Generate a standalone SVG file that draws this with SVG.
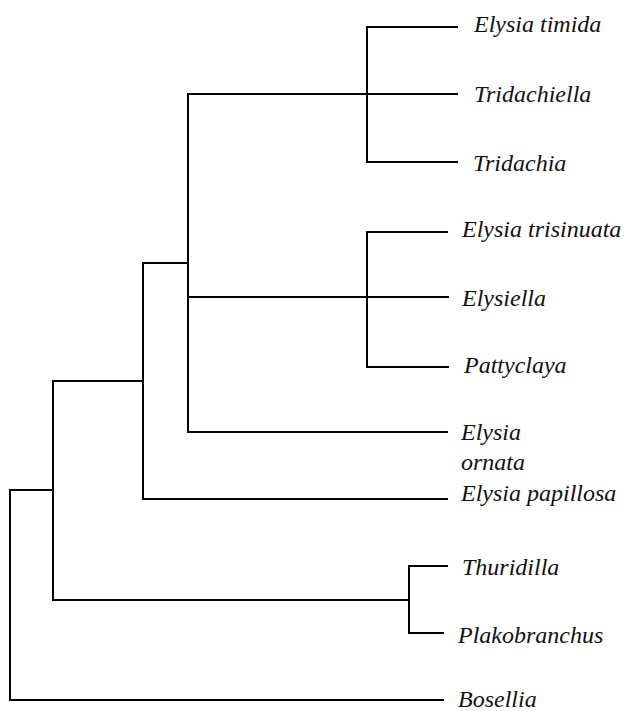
<svg xmlns="http://www.w3.org/2000/svg" width="625" height="711" viewBox="0 0 625 711">
<style>
.b{fill:none;stroke:#000;stroke-width:2;stroke-linecap:square}
.t{font-family:"Liberation Serif","Times New Roman",serif;font-style:italic;font-size:24px;fill:#111}
</style>
<rect width="625" height="711" fill="#fff"/>
<g id="connectors">
<path class="b" d="M367 27V162M367 27H457M367 162H457"/>
<path class="b" d="M188 94H457M188 94V432"/>
<path class="b" d="M367 232V367M367 232H447M367 367H448"/>
<path class="b" d="M188 297H448M188 432H447"/>
<path class="b" d="M143 263H188M143 263V499H447"/>
<path class="b" d="M53 381H143M53 381V600H409"/>
<path class="b" d="M409 566V633M409 566H447M409 633H443"/>
<path class="b" d="M10 490H53M10 490V700H443"/>
</g>
<g id="elysia-timida"><text class="t" x="474" y="32">Elysia timida</text></g>
<g id="tridachiella"><text class="t" x="474" y="102">Tridachiella</text></g>
<g id="tridachia"><text class="t" x="473" y="171">Tridachia</text></g>
<g id="elysia-trisinuata"><text class="t" x="462" y="237">Elysia trisinuata</text></g>
<g id="elysiella"><text class="t" x="462" y="306">Elysiella</text></g>
<g id="pattyclaya"><text class="t" x="464" y="373">Pattyclaya</text></g>
<g id="elysia-ornata"><text class="t" x="461" y="440">Elysia</text><text class="t" x="461" y="470">ornata</text></g>
<g id="elysia-papillosa"><text class="t" x="461" y="501">Elysia papillosa</text></g>
<g id="thuridilla"><text class="t" x="462" y="575">Thuridilla</text></g>
<g id="plakobranchus"><text class="t" x="458" y="643">Plakobranchus</text></g>
<g id="bosellia"><text class="t" x="458" y="707">Bosellia</text></g>
</svg>
